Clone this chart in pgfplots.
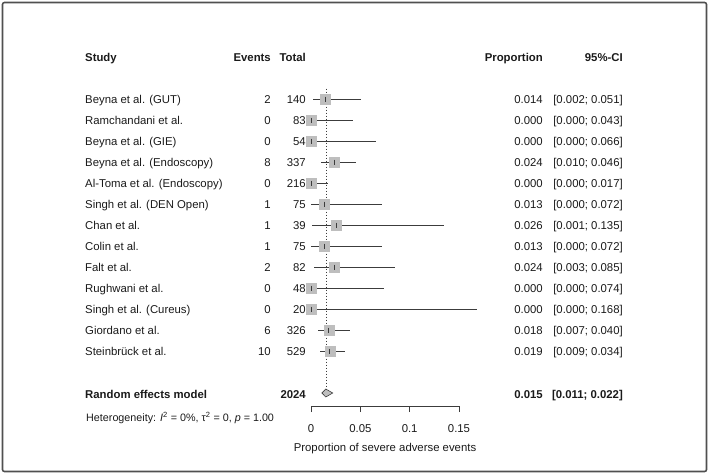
\documentclass[border=0pt]{standalone}
\usepackage{pgfplots}
\pgfplotsset{compat=1.18}
\usepackage{pgfplotstable}
\usepackage{fontspec}
\setmainfont{Liberation Sans}

\definecolor{boxgray}{HTML}{BEBEBE}
\definecolor{linegray}{HTML}{3C3C3C}
\definecolor{framegray}{HTML}{505050}
\definecolor{txt}{HTML}{1A1A1A}

\newcommand\txtfont{\fontsize{11.4}{13}\selectfont}

% study-level proportions with 95% confidence limits; row = position from the top
\pgfplotstableread{
row  p      lo     hi
-1   0.014  0.002  0.051
-2   0.000  0.000  0.043
-3   0.000  0.000  0.066
-4   0.024  0.010  0.046
-5   0.000  0.000  0.017
-6   0.013  0.000  0.072
-7   0.026  0.001  0.135
-8   0.013  0.000  0.072
-9   0.024  0.003  0.085
-10  0.000  0.000  0.074
-11  0.000  0.000  0.168
-12  0.018  0.007  0.040
-13  0.019  0.009  0.034
}\studies

\begin{document}
\begin{tikzpicture}
\useasboundingbox (0,0) rectangle (709bp,-474bp);
\draw[framegray, line width=1.6bp, rounded corners=2bp] (2.5bp,-2.5bp) rectangle (706.5bp,-471.5bp);

\begin{axis}[
  at={(311bp,-406bp)}, anchor=south west,
  scale only axis, width=148bp, height=370bp,
  xmin=0, xmax=0.15, ymin=-15.619, ymax=2,
  clip=false,
  axis y line=none, axis x line*=bottom,
  x axis line style={-, line width=0.6bp, color=linegray},
  xtick={0,0.05,0.1,0.15}, xticklabels={0,0.05,0.1,0.15},
  tick align=outside, major tick length=6bp,
  xtick style={line width=0.6bp, color=linegray},
  xticklabel style={font=\txtfont, text=txt, yshift=-9bp},
  xlabel={Proportion of severe adverse events},
  xlabel style={font=\txtfont, text=txt, yshift=-4bp},
]
% reference line at the pooled estimate
\addplot[linegray, line width=0.6bp, dash pattern=on 1bp off 2bp] coordinates {(0.015,-0.5) (0.015,-15)};
% study squares
\addplot[only marks, mark=square*, mark size=5bp, color=boxgray] table[x=p, y=row]{\studies};
% confidence intervals and point estimates
\addplot[only marks, mark=|, mark size=2.5bp, mark options={line width=0.6bp, draw=linegray},
  error bars/.cd, x dir=both, x explicit, error mark=none,
  error bar style={line width=0.8bp, color=linegray}]
  table[x=p, y=row,
    x error minus expr=\thisrow{p}-\thisrow{lo},
    x error plus expr=\thisrow{hi}-\thisrow{p}]{\studies};
% pooled diamond
\addplot[fill=boxgray, draw=linegray, line width=0.6bp] coordinates {(0.011,-15) (0.015,-14.81) (0.022,-15) (0.015,-15.19)} --cycle;
\end{axis}

\begin{scope}[x=1bp, y=-1bp, every node/.style={inner sep=0pt, text=txt, font=\txtfont}]
  % column headings
  \node[anchor=base west, font=\txtfont\bfseries] at (85,61) {Study};
  \node[anchor=base east, font=\txtfont\bfseries] at (271,61) {Events};
  \node[anchor=base east, font=\txtfont\bfseries] at (306,61) {Total};
  \node[anchor=base east, font=\txtfont\bfseries] at (543,61) {Proportion};
  \node[anchor=base east, font=\txtfont\bfseries] at (623,61) {95\%-CI};
  % one line per study
  \foreach \name/\ev/\tot/\p/\lo/\hi [count=\i] in {
    Beyna et al. (GUT)/2/140/0.014/0.002/0.051,
    Ramchandani et al./0/83/0.000/0.000/0.043,
    Beyna et al. (GIE)/0/54/0.000/0.000/0.066,
    Beyna et al. (Endoscopy)/8/337/0.024/0.010/0.046,
    Al-Toma et al. (Endoscopy)/0/216/0.000/0.000/0.017,
    Singh et al. (DEN Open)/1/75/0.013/0.000/0.072,
    Chan et al./1/39/0.026/0.001/0.135,
    Colin et al./1/75/0.013/0.000/0.072,
    Falt et al./2/82/0.024/0.003/0.085,
    Rughwani et al./0/48/0.000/0.000/0.074,
    Singh et al. (Cureus)/0/20/0.000/0.000/0.168,
    Giordano et al./6/326/0.018/0.007/0.040,
    Steinbrück et al./10/529/0.019/0.009/0.034} {
    \pgfmathsetmacro\yb{82+21*\i}
    \node[anchor=base west] at (85,\yb) {\name};
    \node[anchor=base east] at (271,\yb) {\ev};
    \node[anchor=base east] at (306,\yb) {\tot};
    \node[anchor=base east] at (543,\yb) {\p};
    \node[anchor=base east] at (623,\yb) {[\lo; \hi]};
  }
  % pooled line
  \node[anchor=base west, font=\txtfont\bfseries] at (85,398) {Random effects model};
  \node[anchor=base east, font=\txtfont\bfseries] at (306,398) {2024};
  \node[anchor=base east, font=\txtfont\bfseries] at (543,398) {0.015};
  \node[anchor=base east, font=\txtfont\bfseries] at (623,398) {[0.011; 0.022]};
  \node[anchor=base west, font=\fontsize{10.8}{12}\selectfont] at (86,421)
    {Heterogeneity: \textit{I}\textsuperscript{2} = 0\%, τ\textsuperscript{2} = 0, \textit{p} = 1.00};
\end{scope}
\end{tikzpicture}
\end{document}
